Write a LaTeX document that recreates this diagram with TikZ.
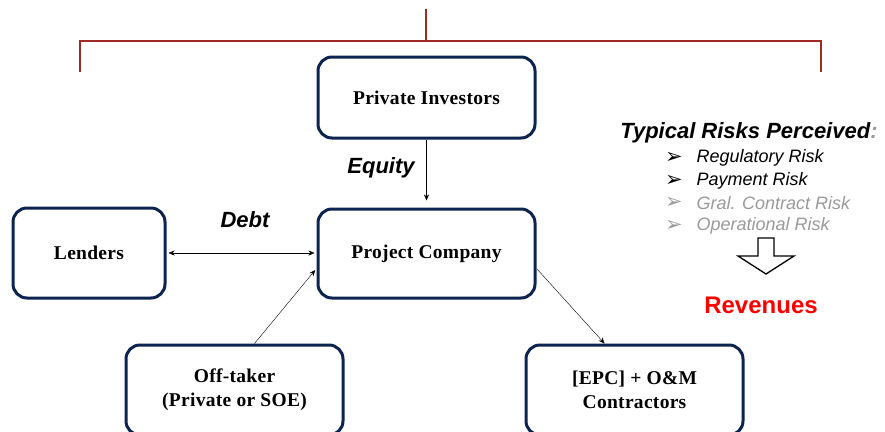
\documentclass[tikz,border=0pt]{standalone}
\usepackage{fontspec}
\setmainfont{Liberation Serif}
\setsansfont{Liberation Sans}
\newfontfamily\dingfont{DejaVu Sans}
\usetikzlibrary{arrows.meta,calc}

\definecolor{boxnavy}{HTML}{0D2350}
\definecolor{bracketred}{HTML}{A02A24}
\definecolor{riskgray}{HTML}{9A9A9A}

\tikzset{
  party/.style={draw=boxnavy, line width=3pt, rounded corners=14pt, align=center,
    font=\bfseries\fontsize{19.5}{24}\selectfont\addfontfeatures{LetterSpace=1.5}, inner sep=0pt},
  flow/.style={-{Stealth[length=6pt,width=5pt]}, thin},
  flowlabel/.style={font=\sffamily\bfseries\itshape\fontsize{22}{24}\selectfont},
  risk/.style={anchor=west, font=\sffamily\itshape\fontsize{18}{20}\selectfont},
}

\begin{document}
\begin{tikzpicture}[x=1pt, y=-1pt]
    \useasboundingbox (0,0) rectangle (885,431);
    % bracket on top
    \draw [bracketred, line width=1.5pt] (426,9) -- (426,41);
    \draw [bracketred, line width=1.5pt] (80,72) -- (80,41) -- (821,41) -- (821,72);
    % parties
    \node [party, minimum width=217pt, minimum height=81pt] (inv) at (426.5,97.5) {Private Investors};
    \node [party, minimum width=217pt, minimum height=89pt] (pc) at (426.5,253.5) {Project Company};
    \node [party, minimum width=152pt, minimum height=90pt] (lend) at (89,253) {Lenders};
    \node [party, minimum width=217pt, minimum height=90pt] (off) at (234.5,390) {Off-taker\\(Private or SOE)};
    \node [party, minimum width=217pt, minimum height=90pt] (epc) at (634.5,390) {[EPC] + O\&M\\Contractors};
    % flows
    \draw [flow, shorten >=7pt] (inv.south) -- (pc.north);
    \draw [flow, {Stealth[length=6pt,width=5pt]}-{Stealth[length=6pt,width=5pt]}, shorten <=2pt, shorten >=2pt] (lend.east) -- (pc.west |- lend.east);
    \draw [flow, shorten >=2pt] ([xshift=20pt]off.north) -- ([yshift=-15pt]pc.west);
    \draw [flow, shorten <=1pt] ([yshift=-15pt]pc.east) -- ([xshift=-30pt]epc.north);
    \node [flowlabel] (eq) at (381,168) {Equity};
    \node [flowlabel] (debt) at (245,220) {Debt};
    % risks
    \node [font=\sffamily\bfseries\itshape\fontsize{22}{24}\selectfont] (title) at (749,133) {Typical Risks Perceived\textcolor{riskgray}{:}};
    \foreach \txt/\col [count=\i] in {Regulatory Risk/black, Payment Risk/black, Gral. Contract Risk/riskgray, Operational Risk/riskgray} {
        \node [text=\col, font=\dingfont\fontsize{21}{22}\selectfont] (b\i) at (674,158+22.5*\i-22.5) {➢};
        \node [risk, text=\col] (r\i) at (693,158+22.5*\i-22.5) {\txt};
    }
    \draw [line width=1.3pt, line join=miter] (758,238) -- (774,238) -- (774,256) -- (794,256) -- (766,274)
        -- (738,256) -- (758,256) -- cycle;
    \node [text=red, font=\sffamily\bfseries\fontsize{24}{26}\selectfont] (rev) at (761,305) {Revenues};
\end{tikzpicture}
\end{document}
